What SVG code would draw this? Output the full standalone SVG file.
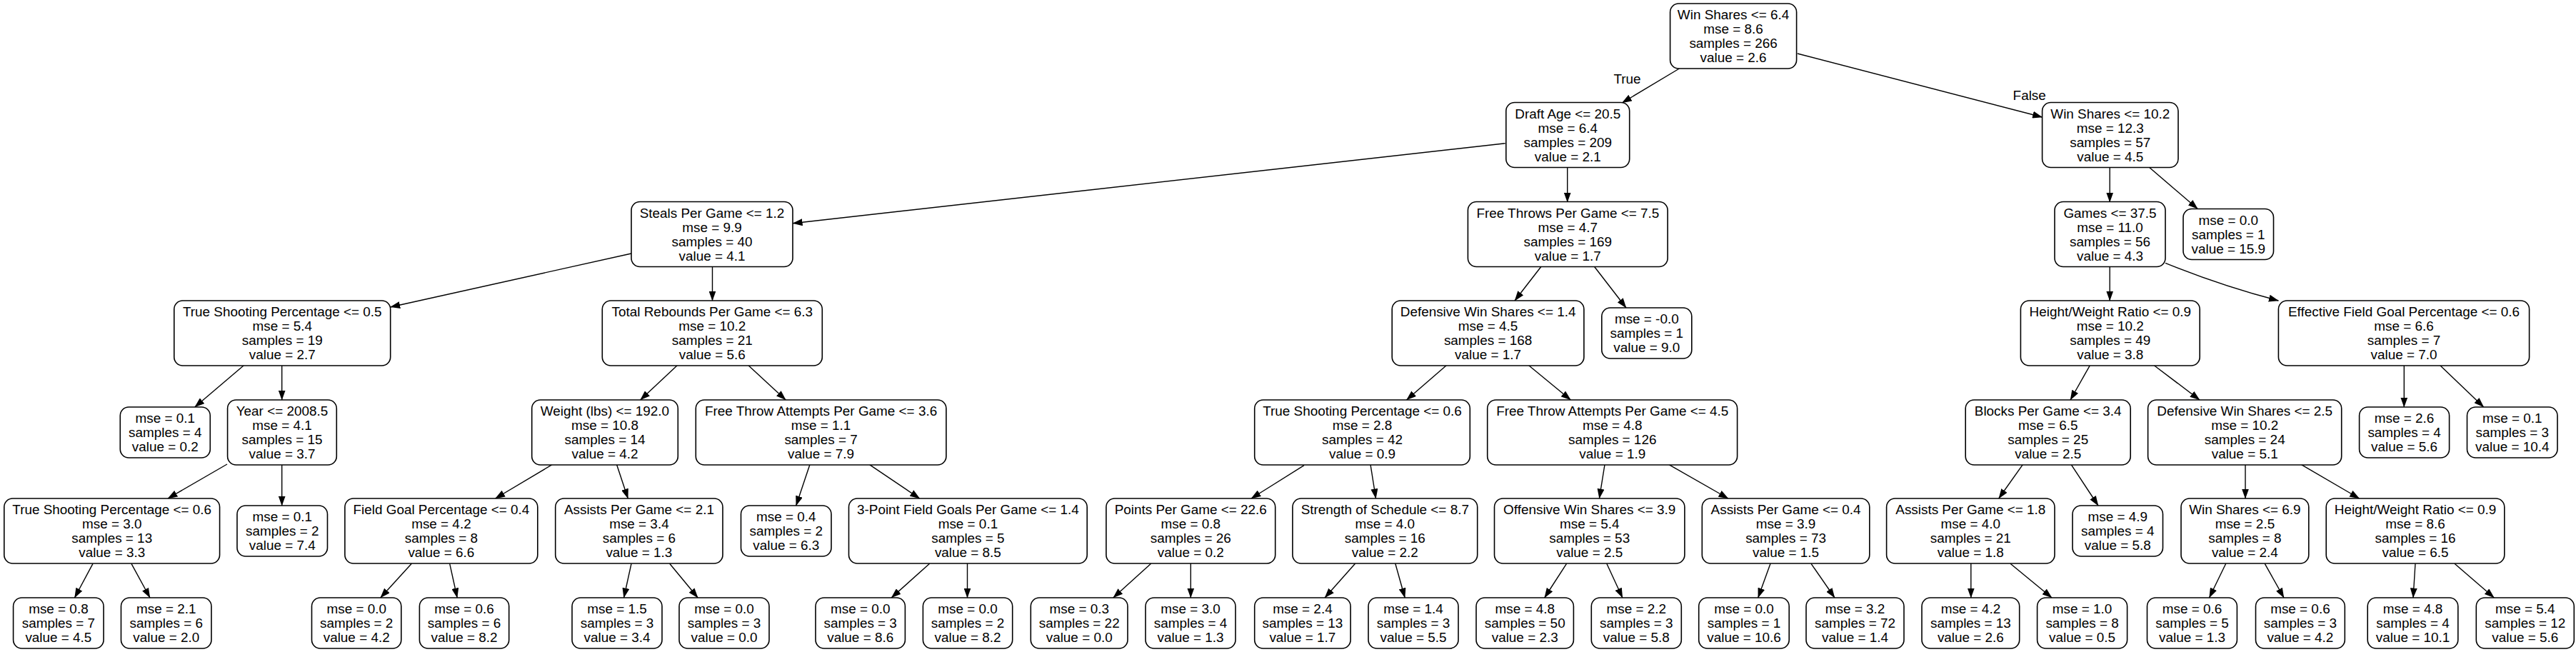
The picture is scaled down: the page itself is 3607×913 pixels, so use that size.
<svg xmlns="http://www.w3.org/2000/svg" width="3607" height="913" viewBox="0 0 3607 913">
<style>
.n rect{fill:#fff;stroke:#000;stroke-width:1.6}
text{font-family:"Liberation Sans",Arial,sans-serif;font-size:18.9px;text-anchor:middle;fill:#000}
.e path{stroke:#000;stroke-width:1.4;fill:none;marker-end:url(#ah)}
</style>
<defs>
<marker id="ah" markerUnits="userSpaceOnUse" markerWidth="14" markerHeight="10" refX="13.5" refY="5" orient="auto"><path d="M0,0 L14,5 L0,10 z" fill="#000"/></marker>
</defs>
<rect width="3607" height="913" fill="#fff"/>
<g id="connectors" class="e">
<path d="M2351.4,96 L2271.3,144"/>
<path d="M2516.8,75 L2859.6,164"/>
<path d="M2107.6,200.7 L1110.1,312.7"/>
<path d="M2194.7,234.5 L2194.7,283"/>
<path d="M2954.2,234.5 L2954.2,283"/>
<path d="M3009.4,234.3 L3077.3,292.5"/>
<path d="M884,355 L546.7,430"/>
<path d="M997.5,373.5 L997.5,421"/>
<path d="M2158,373.3 L2121,421"/>
<path d="M2232.4,373.3 L2277,431"/>
<path d="M2954.2,373.5 L2954.2,421"/>
<path d="M3032,368.3 Q3110,400 3190.4,421"/>
<path d="M341.3,511.7 L272.8,570"/>
<path d="M394.7,512 L394.7,560"/>
<path d="M948.2,511.7 L896.7,560"/>
<path d="M1048,511.7 L1100.2,560"/>
<path d="M2025.2,511.7 L1969.5,560"/>
<path d="M2140.7,511.7 L2199.3,560"/>
<path d="M2926.4,511.7 L2899,560"/>
<path d="M3016.3,511.7 L3080,560"/>
<path d="M3366.3,512 L3366.3,570"/>
<path d="M3416.8,511.7 L3477.7,570"/>
<path d="M318,650 L235,698"/>
<path d="M394.7,651 L394.7,708"/>
<path d="M773,650.7 L693.6,698"/>
<path d="M863.6,650.7 L879.3,698"/>
<path d="M1133.9,650.7 L1114.7,708"/>
<path d="M1217.5,650.7 L1287.7,698"/>
<path d="M1826,651.7 L1752,698"/>
<path d="M1919,650.7 L1926.5,698"/>
<path d="M2247,650.7 L2239.4,698"/>
<path d="M2336.9,650.7 L2419.9,698"/>
<path d="M2832.3,650.7 L2798.7,698"/>
<path d="M2900.2,650.7 L2938,708"/>
<path d="M3144,651 L3144,698"/>
<path d="M3222.4,650.7 L3303.6,698"/>
<path d="M130,789.3 L104.5,837"/>
<path d="M184,789.3 L210,837"/>
<path d="M576.3,789.3 L532.8,837"/>
<path d="M629.7,789.3 L640.2,837"/>
<path d="M884,789.3 L873.5,837"/>
<path d="M937.7,789.3 L977.2,837"/>
<path d="M1301.6,789.3 L1248.2,837"/>
<path d="M1354.5,789 L1354.5,837"/>
<path d="M1611.6,789.3 L1558.8,837"/>
<path d="M1667.3,789 L1667.3,837"/>
<path d="M1897.5,789.3 L1855.1,837"/>
<path d="M1953.8,789.3 L1967.2,837"/>
<path d="M2193.5,789.3 L2162.7,837"/>
<path d="M2249.8,789.3 L2271.9,837"/>
<path d="M2479,789.3 L2461.7,837"/>
<path d="M2536,789.3 L2569,837"/>
<path d="M2759.8,789 L2759.8,837"/>
<path d="M2815,789.3 L2873,837"/>
<path d="M3116.7,789.3 L3093.5,837"/>
<path d="M3171.3,789.3 L3198,837"/>
<path d="M3382,789.3 L3379,837"/>
<path d="M3437,789.3 L3492.3,837"/>
</g>
<g id="edge-labels">
<text x="2278.5" y="116.8">True</text>
<text x="2841.7" y="139.8">False</text>
</g>
<g id="n0" class="n"><rect x="2338.6" y="5" width="177" height="91" rx="12"/><text><tspan x="2427.1" y="27">Win Shares &lt;= 6.4</tspan><tspan x="2427.1" y="47">mse = 8.6</tspan><tspan x="2427.1" y="67">samples = 266</tspan><tspan x="2427.1" y="87">value = 2.6</tspan></text></g>
<g id="n1" class="n"><rect x="2108.8" y="143.5" width="172.9" height="91" rx="12"/><text><tspan x="2195.3" y="165.5">Draft Age &lt;= 20.5</tspan><tspan x="2195.3" y="185.5">mse = 6.4</tspan><tspan x="2195.3" y="205.5">samples = 209</tspan><tspan x="2195.3" y="225.5">value = 2.1</tspan></text></g>
<g id="n2" class="n"><rect x="2859.6" y="143.5" width="190.4" height="91" rx="12"/><text><tspan x="2954.8" y="165.5">Win Shares &lt;= 10.2</tspan><tspan x="2954.8" y="185.5">mse = 12.3</tspan><tspan x="2954.8" y="205.5">samples = 57</tspan><tspan x="2954.8" y="225.5">value = 4.5</tspan></text></g>
<g id="n3" class="n"><rect x="884" y="282.5" width="226" height="91" rx="12"/><text><tspan x="997" y="304.5">Steals Per Game &lt;= 1.2</tspan><tspan x="997" y="324.5">mse = 9.9</tspan><tspan x="997" y="344.5">samples = 40</tspan><tspan x="997" y="364.5">value = 4.1</tspan></text></g>
<g id="n4" class="n"><rect x="2055.4" y="282.5" width="279.7" height="91" rx="12"/><text><tspan x="2195.3" y="304.5">Free Throws Per Game &lt;= 7.5</tspan><tspan x="2195.3" y="324.5">mse = 4.7</tspan><tspan x="2195.3" y="344.5">samples = 169</tspan><tspan x="2195.3" y="364.5">value = 1.7</tspan></text></g>
<g id="n5" class="n"><rect x="2877" y="282.5" width="155" height="91" rx="12"/><text><tspan x="2954.5" y="304.5">Games &lt;= 37.5</tspan><tspan x="2954.5" y="324.5">mse = 11.0</tspan><tspan x="2954.5" y="344.5">samples = 56</tspan><tspan x="2954.5" y="364.5">value = 4.3</tspan></text></g>
<g id="n6" class="n"><rect x="3057" y="292.5" width="126.5" height="71" rx="12"/><text><tspan x="3120.3" y="314.5">mse = 0.0</tspan><tspan x="3120.3" y="334.5">samples = 1</tspan><tspan x="3120.3" y="354.5">value = 15.9</tspan></text></g>
<g id="n7" class="n"><rect x="243.8" y="421" width="302.9" height="91" rx="12"/><text><tspan x="395.3" y="443">True Shooting Percentage &lt;= 0.5</tspan><tspan x="395.3" y="463">mse = 5.4</tspan><tspan x="395.3" y="483">samples = 19</tspan><tspan x="395.3" y="503">value = 2.7</tspan></text></g>
<g id="n8" class="n"><rect x="843.3" y="421" width="308" height="91" rx="12"/><text><tspan x="997.3" y="443">Total Rebounds Per Game &lt;= 6.3</tspan><tspan x="997.3" y="463">mse = 10.2</tspan><tspan x="997.3" y="483">samples = 21</tspan><tspan x="997.3" y="503">value = 5.6</tspan></text></g>
<g id="n9" class="n"><rect x="1949.2" y="421" width="268.7" height="91" rx="12"/><text><tspan x="2083.6" y="443">Defensive Win Shares &lt;= 1.4</tspan><tspan x="2083.6" y="463">mse = 4.5</tspan><tspan x="2083.6" y="483">samples = 168</tspan><tspan x="2083.6" y="503">value = 1.7</tspan></text></g>
<g id="n10" class="n"><rect x="2242.8" y="431" width="126" height="71" rx="12"/><text><tspan x="2305.8" y="453">mse = -0.0</tspan><tspan x="2305.8" y="473">samples = 1</tspan><tspan x="2305.8" y="493">value = 9.0</tspan></text></g>
<g id="n11" class="n"><rect x="2829.4" y="421" width="250.8" height="91" rx="12"/><text><tspan x="2954.8" y="443">Height/Weight Ratio &lt;= 0.9</tspan><tspan x="2954.8" y="463">mse = 10.2</tspan><tspan x="2954.8" y="483">samples = 49</tspan><tspan x="2954.8" y="503">value = 3.8</tspan></text></g>
<g id="n12" class="n"><rect x="3190.4" y="421" width="351.2" height="91" rx="12"/><text><tspan x="3366" y="443">Effective Field Goal Percentage &lt;= 0.6</tspan><tspan x="3366" y="463">mse = 6.6</tspan><tspan x="3366" y="483">samples = 7</tspan><tspan x="3366" y="503">value = 7.0</tspan></text></g>
<g id="n13" class="n"><rect x="168.3" y="570" width="126" height="71" rx="12"/><text><tspan x="231.3" y="592">mse = 0.1</tspan><tspan x="231.3" y="612">samples = 4</tspan><tspan x="231.3" y="632">value = 0.2</tspan></text></g>
<g id="n14" class="n"><rect x="318.6" y="560" width="152.7" height="91" rx="12"/><text><tspan x="395" y="582">Year &lt;= 2008.5</tspan><tspan x="395" y="602">mse = 4.1</tspan><tspan x="395" y="622">samples = 15</tspan><tspan x="395" y="642">value = 3.7</tspan></text></g>
<g id="n15" class="n"><rect x="744.7" y="560" width="204.6" height="91" rx="12"/><text><tspan x="847" y="582">Weight (lbs) &lt;= 192.0</tspan><tspan x="847" y="602">mse = 10.8</tspan><tspan x="847" y="622">samples = 14</tspan><tspan x="847" y="642">value = 4.2</tspan></text></g>
<g id="n16" class="n"><rect x="974.3" y="560" width="350.6" height="91" rx="12"/><text><tspan x="1149.6" y="582">Free Throw Attempts Per Game &lt;= 3.6</tspan><tspan x="1149.6" y="602">mse = 1.1</tspan><tspan x="1149.6" y="622">samples = 7</tspan><tspan x="1149.6" y="642">value = 7.9</tspan></text></g>
<g id="n17" class="n"><rect x="1756.7" y="560" width="301.6" height="91" rx="12"/><text><tspan x="1907.5" y="582">True Shooting Percentage &lt;= 0.6</tspan><tspan x="1907.5" y="602">mse = 2.8</tspan><tspan x="1907.5" y="622">samples = 42</tspan><tspan x="1907.5" y="642">value = 0.9</tspan></text></g>
<g id="n18" class="n"><rect x="2082.7" y="560" width="349.9" height="91" rx="12"/><text><tspan x="2257.7" y="582">Free Throw Attempts Per Game &lt;= 4.5</tspan><tspan x="2257.7" y="602">mse = 4.8</tspan><tspan x="2257.7" y="622">samples = 126</tspan><tspan x="2257.7" y="642">value = 1.9</tspan></text></g>
<g id="n19" class="n"><rect x="2752.2" y="560" width="231" height="91" rx="12"/><text><tspan x="2867.7" y="582">Blocks Per Game &lt;= 3.4</tspan><tspan x="2867.7" y="602">mse = 6.5</tspan><tspan x="2867.7" y="622">samples = 25</tspan><tspan x="2867.7" y="642">value = 2.5</tspan></text></g>
<g id="n20" class="n"><rect x="3007.6" y="560" width="271.1" height="91" rx="12"/><text><tspan x="3143.2" y="582">Defensive Win Shares &lt;= 2.5</tspan><tspan x="3143.2" y="602">mse = 10.2</tspan><tspan x="3143.2" y="622">samples = 24</tspan><tspan x="3143.2" y="642">value = 5.1</tspan></text></g>
<g id="n21" class="n"><rect x="3303.6" y="570" width="126" height="71" rx="12"/><text><tspan x="3366.6" y="592">mse = 2.6</tspan><tspan x="3366.6" y="612">samples = 4</tspan><tspan x="3366.6" y="632">value = 5.6</tspan></text></g>
<g id="n22" class="n"><rect x="3454.5" y="570" width="126.5" height="71" rx="12"/><text><tspan x="3517.8" y="592">mse = 0.1</tspan><tspan x="3517.8" y="612">samples = 3</tspan><tspan x="3517.8" y="632">value = 10.4</tspan></text></g>
<g id="n23" class="n"><rect x="5.8" y="698" width="301.8" height="91" rx="12"/><text><tspan x="156.7" y="720">True Shooting Percentage &lt;= 0.6</tspan><tspan x="156.7" y="740">mse = 3.0</tspan><tspan x="156.7" y="760">samples = 13</tspan><tspan x="156.7" y="780">value = 3.3</tspan></text></g>
<g id="n24" class="n"><rect x="332" y="708" width="126.5" height="71" rx="12"/><text><tspan x="395.3" y="730">mse = 0.1</tspan><tspan x="395.3" y="750">samples = 2</tspan><tspan x="395.3" y="770">value = 7.4</tspan></text></g>
<g id="n25" class="n"><rect x="482.9" y="698" width="269.9" height="91" rx="12"/><text><tspan x="617.9" y="720">Field Goal Percentage &lt;= 0.4</tspan><tspan x="617.9" y="740">mse = 4.2</tspan><tspan x="617.9" y="760">samples = 8</tspan><tspan x="617.9" y="780">value = 6.6</tspan></text></g>
<g id="n26" class="n"><rect x="777.7" y="698" width="234.3" height="91" rx="12"/><text><tspan x="894.9" y="720">Assists Per Game &lt;= 2.1</tspan><tspan x="894.9" y="740">mse = 3.4</tspan><tspan x="894.9" y="760">samples = 6</tspan><tspan x="894.9" y="780">value = 1.3</tspan></text></g>
<g id="n27" class="n"><rect x="1037.5" y="708" width="126.5" height="71" rx="12"/><text><tspan x="1100.8" y="730">mse = 0.4</tspan><tspan x="1100.8" y="750">samples = 2</tspan><tspan x="1100.8" y="770">value = 6.3</tspan></text></g>
<g id="n28" class="n"><rect x="1188.5" y="698" width="333.7" height="91" rx="12"/><text><tspan x="1355.4" y="720">3-Point Field Goals Per Game &lt;= 1.4</tspan><tspan x="1355.4" y="740">mse = 0.1</tspan><tspan x="1355.4" y="760">samples = 5</tspan><tspan x="1355.4" y="780">value = 8.5</tspan></text></g>
<g id="n29" class="n"><rect x="1548.9" y="698" width="236.8" height="91" rx="12"/><text><tspan x="1667.3" y="720">Points Per Game &lt;= 22.6</tspan><tspan x="1667.3" y="740">mse = 0.8</tspan><tspan x="1667.3" y="760">samples = 26</tspan><tspan x="1667.3" y="780">value = 0.2</tspan></text></g>
<g id="n30" class="n"><rect x="1809.9" y="698" width="258.8" height="91" rx="12"/><text><tspan x="1939.3" y="720">Strength of Schedule &lt;= 8.7</tspan><tspan x="1939.3" y="740">mse = 4.0</tspan><tspan x="1939.3" y="760">samples = 16</tspan><tspan x="1939.3" y="780">value = 2.2</tspan></text></g>
<g id="n31" class="n"><rect x="2092.5" y="698" width="266.4" height="91" rx="12"/><text><tspan x="2225.7" y="720">Offensive Win Shares &lt;= 3.9</tspan><tspan x="2225.7" y="740">mse = 5.4</tspan><tspan x="2225.7" y="760">samples = 53</tspan><tspan x="2225.7" y="780">value = 2.5</tspan></text></g>
<g id="n32" class="n"><rect x="2383.3" y="698" width="234.5" height="91" rx="12"/><text><tspan x="2500.6" y="720">Assists Per Game &lt;= 0.4</tspan><tspan x="2500.6" y="740">mse = 3.9</tspan><tspan x="2500.6" y="760">samples = 73</tspan><tspan x="2500.6" y="780">value = 1.5</tspan></text></g>
<g id="n33" class="n"><rect x="2641.6" y="698" width="235.4" height="91" rx="12"/><text><tspan x="2759.3" y="720">Assists Per Game &lt;= 1.8</tspan><tspan x="2759.3" y="740">mse = 4.0</tspan><tspan x="2759.3" y="760">samples = 21</tspan><tspan x="2759.3" y="780">value = 1.8</tspan></text></g>
<g id="n34" class="n"><rect x="2902" y="708" width="126.5" height="71" rx="12"/><text><tspan x="2965.3" y="730">mse = 4.9</tspan><tspan x="2965.3" y="750">samples = 4</tspan><tspan x="2965.3" y="770">value = 5.8</tspan></text></g>
<g id="n35" class="n"><rect x="3054" y="698" width="178.8" height="91" rx="12"/><text><tspan x="3143.4" y="720">Win Shares &lt;= 6.9</tspan><tspan x="3143.4" y="740">mse = 2.5</tspan><tspan x="3143.4" y="760">samples = 8</tspan><tspan x="3143.4" y="780">value = 2.4</tspan></text></g>
<g id="n36" class="n"><rect x="3257.2" y="698" width="249.6" height="91" rx="12"/><text><tspan x="3382" y="720">Height/Weight Ratio &lt;= 0.9</tspan><tspan x="3382" y="740">mse = 8.6</tspan><tspan x="3382" y="760">samples = 16</tspan><tspan x="3382" y="780">value = 6.5</tspan></text></g>
<g id="n37" class="n"><rect x="18.6" y="837" width="126.5" height="71" rx="12"/><text><tspan x="81.9" y="859">mse = 0.8</tspan><tspan x="81.9" y="879">samples = 7</tspan><tspan x="81.9" y="899">value = 4.5</tspan></text></g>
<g id="n38" class="n"><rect x="169.5" y="837" width="126.5" height="71" rx="12"/><text><tspan x="232.8" y="859">mse = 2.1</tspan><tspan x="232.8" y="879">samples = 6</tspan><tspan x="232.8" y="899">value = 2.0</tspan></text></g>
<g id="n39" class="n"><rect x="436.5" y="837" width="125.3" height="71" rx="12"/><text><tspan x="499.2" y="859">mse = 0.0</tspan><tspan x="499.2" y="879">samples = 2</tspan><tspan x="499.2" y="899">value = 4.2</tspan></text></g>
<g id="n40" class="n"><rect x="587.4" y="837" width="125.3" height="71" rx="12"/><text><tspan x="650" y="859">mse = 0.6</tspan><tspan x="650" y="879">samples = 6</tspan><tspan x="650" y="899">value = 8.2</tspan></text></g>
<g id="n41" class="n"><rect x="801" y="837" width="126" height="71" rx="12"/><text><tspan x="864" y="859">mse = 1.5</tspan><tspan x="864" y="879">samples = 3</tspan><tspan x="864" y="899">value = 3.4</tspan></text></g>
<g id="n42" class="n"><rect x="951" y="837" width="126" height="71" rx="12"/><text><tspan x="1014" y="859">mse = 0.0</tspan><tspan x="1014" y="879">samples = 3</tspan><tspan x="1014" y="899">value = 0.0</tspan></text></g>
<g id="n43" class="n"><rect x="1142" y="837" width="125.4" height="71" rx="12"/><text><tspan x="1204.7" y="859">mse = 0.0</tspan><tspan x="1204.7" y="879">samples = 3</tspan><tspan x="1204.7" y="899">value = 8.6</tspan></text></g>
<g id="n44" class="n"><rect x="1292.4" y="837" width="125.3" height="71" rx="12"/><text><tspan x="1355" y="859">mse = 0.0</tspan><tspan x="1355" y="879">samples = 2</tspan><tspan x="1355" y="899">value = 8.2</tspan></text></g>
<g id="n45" class="n"><rect x="1443.3" y="837" width="135.7" height="71" rx="12"/><text><tspan x="1511.2" y="859">mse = 0.3</tspan><tspan x="1511.2" y="879">samples = 22</tspan><tspan x="1511.2" y="899">value = 0.0</tspan></text></g>
<g id="n46" class="n"><rect x="1604" y="837" width="126" height="71" rx="12"/><text><tspan x="1667" y="859">mse = 3.0</tspan><tspan x="1667" y="879">samples = 4</tspan><tspan x="1667" y="899">value = 1.3</tspan></text></g>
<g id="n47" class="n"><rect x="1756.7" y="837" width="134.4" height="71" rx="12"/><text><tspan x="1823.9" y="859">mse = 2.4</tspan><tspan x="1823.9" y="879">samples = 13</tspan><tspan x="1823.9" y="899">value = 1.7</tspan></text></g>
<g id="n48" class="n"><rect x="1916" y="837" width="126" height="71" rx="12"/><text><tspan x="1979" y="859">mse = 1.4</tspan><tspan x="1979" y="879">samples = 3</tspan><tspan x="1979" y="899">value = 5.5</tspan></text></g>
<g id="n49" class="n"><rect x="2067" y="837" width="136.4" height="71" rx="12"/><text><tspan x="2135.2" y="859">mse = 4.8</tspan><tspan x="2135.2" y="879">samples = 50</tspan><tspan x="2135.2" y="899">value = 2.3</tspan></text></g>
<g id="n50" class="n"><rect x="2228.3" y="837" width="126" height="71" rx="12"/><text><tspan x="2291.3" y="859">mse = 2.2</tspan><tspan x="2291.3" y="879">samples = 3</tspan><tspan x="2291.3" y="899">value = 5.8</tspan></text></g>
<g id="n51" class="n"><rect x="2378.7" y="837" width="126.5" height="71" rx="12"/><text><tspan x="2442" y="859">mse = 0.0</tspan><tspan x="2442" y="879">samples = 1</tspan><tspan x="2442" y="899">value = 10.6</tspan></text></g>
<g id="n52" class="n"><rect x="2529" y="837" width="137" height="71" rx="12"/><text><tspan x="2597.5" y="859">mse = 3.2</tspan><tspan x="2597.5" y="879">samples = 72</tspan><tspan x="2597.5" y="899">value = 1.4</tspan></text></g>
<g id="n53" class="n"><rect x="2691" y="837" width="136.7" height="71" rx="12"/><text><tspan x="2759.4" y="859">mse = 4.2</tspan><tspan x="2759.4" y="879">samples = 13</tspan><tspan x="2759.4" y="899">value = 2.6</tspan></text></g>
<g id="n54" class="n"><rect x="2852.6" y="837" width="126" height="71" rx="12"/><text><tspan x="2915.6" y="859">mse = 1.0</tspan><tspan x="2915.6" y="879">samples = 8</tspan><tspan x="2915.6" y="899">value = 0.5</tspan></text></g>
<g id="n55" class="n"><rect x="3006.5" y="837" width="125.9" height="71" rx="12"/><text><tspan x="3069.5" y="859">mse = 0.6</tspan><tspan x="3069.5" y="879">samples = 5</tspan><tspan x="3069.5" y="899">value = 1.3</tspan></text></g>
<g id="n56" class="n"><rect x="3158.5" y="837" width="124.8" height="71" rx="12"/><text><tspan x="3220.9" y="859">mse = 0.6</tspan><tspan x="3220.9" y="879">samples = 3</tspan><tspan x="3220.9" y="899">value = 4.2</tspan></text></g>
<g id="n57" class="n"><rect x="3315.2" y="837" width="126.6" height="71" rx="12"/><text><tspan x="3378.5" y="859">mse = 4.8</tspan><tspan x="3378.5" y="879">samples = 4</tspan><tspan x="3378.5" y="899">value = 10.1</tspan></text></g>
<g id="n58" class="n"><rect x="3467.3" y="837" width="137" height="71" rx="12"/><text><tspan x="3535.8" y="859">mse = 5.4</tspan><tspan x="3535.8" y="879">samples = 12</tspan><tspan x="3535.8" y="899">value = 5.6</tspan></text></g>
</svg>
